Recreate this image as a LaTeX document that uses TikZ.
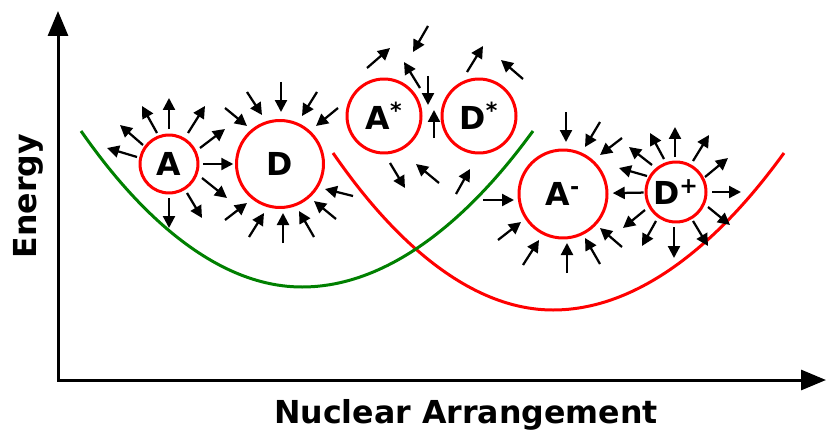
\documentclass[tikz,border=0pt]{standalone}
\usepackage{fontspec}
\setmainfont{DejaVu Sans}
\usepackage{xcolor}
\usepackage{tikz}
\usetikzlibrary{arrows.meta,calc}
\definecolor{wellgreen}{RGB}{0,128,0}
\definecolor{wellred}{RGB}{255,0,0}

\begin{document}
\begin{tikzpicture}[
  x=0.02cm, y=-0.02cm,
  m/.style={circle, draw=wellred, line width=0.6mm, inner sep=0pt, font=\fontsize{18}{21}\selectfont\bfseries},
  f/.style={line width=0.45mm, -{Triangle[length=2.4mm, width=2.4mm]}},
  ax/.style={line width=0.6mm, {Triangle[length=5mm, width=4mm]}-{Triangle[length=5mm, width=4mm]}},
  well/.style={line width=0.6mm},
  lab/.style={font=\fontsize{18}{22}\selectfont\bfseries}
]
  \useasboundingbox (0,0) rectangle (827,429);

  % axes
  \coordinate (top) at (58,11);
  \coordinate (O) at (58,380);
  \coordinate (right) at (826,380);
  \draw[ax] (top) -- (O) -- (right);
  \node[lab, rotate=90] (energy) at (28,196) {Energy};
  \node[lab, anchor=base] (nuc) at (466,423) {Nuclear Arrangement};

  % energy wells
  \draw[well, wellred] (333,153) parabola bend (553,310) (784,153);
  \draw[well, wellgreen] (81,131) parabola bend (302,287) (533,131);

  \node[m, minimum size=11.6mm] (A) at (169,164) {A};
  \node[m, minimum size=17.4mm] (D) at (280,164) {D};
  \node[m, minimum size=14.8mm] (As) at (384,116) {A\textsuperscript{*}};
  \node[m, minimum size=14.8mm] (Ds) at (479,116) {D\textsuperscript{*}};
  \node[m, minimum size=17.6mm] (Am) at (563,194) {A\textsuperscript{-}};
  \node[m, minimum size=12mm] (Dp) at (676,192) {D\textsuperscript{+}};

  \draw[f, shorten <=0.76mm, shorten >=0.35mm] (A) -- (D);
  \draw[f, shorten <=0.2mm, shorten >=0.85mm] (Dp) -- (Am);

  % tail offset / arrow vector
  \foreach \x/\y/\u/\v in {-32/-7/-30/-9, -26/-19/-23/-20, -12/-31/-15/-27, 0/-35/0/-31, 19/-31/17/-27,
      31/-16/25/-19, 33/14/25/20, 18/29/15/25, 0/34/0/30}
    \draw[f] ($(A)+(\x,\y)$) -- ++(\u,\v);
  \foreach \x/\y/\u/\v in {1/-82/0/30, -33/-72/15/23, -55/-56/22/18, 37/-72/-15/24, 58/-56/-22/18,
      73/32/-28/-7, 56/55/-22/-18, 34/73/-15/-26, 3/79/0/-30, -31/73/15/-24, -55/56/22/-17}
    \draw[f] ($(D)+(\x,\y)$) -- ++(\u,\v);
  \foreach \x/\y/\u/\v in {-17/-48/23/-20, 44/-90/-15/26, 36/-28/-16/-26, 44/-40/0/29, 6/47/15/25, 55/67/-23/-19}
    \draw[f] ($(As)+(\x,\y)$) -- ++(\u,\v);
  \foreach \x/\y/\u/\v in {-45/22/0/-28, -12/-44/16/-26, 44/-37/-22/-19, -23/78/14/-25}
    \draw[f] ($(Ds)+(\x,\y)$) -- ++(\u,\v);
  \foreach \x/\y/\u/\v in {3/-82/0/30, 37/-72/-15/25, 59/-56/-22/17, -80/6/31/0, -65/46/23/-18,
      -40/71/16/-25, 4/79/0/-30, 37/70/-15/-26, 59/53/-22/-19}
    \draw[f] ($(Am)+(\x,\y)$) -- ++(\u,\v);
  \foreach \x/\y/\u/\v in {-29/-16/-28/-8, -24/-27/-23/-18, -12/-33/-14/-26, -1/-35/0/-30, 17/-31/16/-26,
      29/-15/23/-19, 36/0/29/0, 32/15/22/18, 17/29/15/25, -2/35/0/31, -20/29/-14/25, -31/18/-22/18}
    \draw[f] ($(Dp)+(\x,\y)$) -- ++(\u,\v);
\end{tikzpicture}
\end{document}
